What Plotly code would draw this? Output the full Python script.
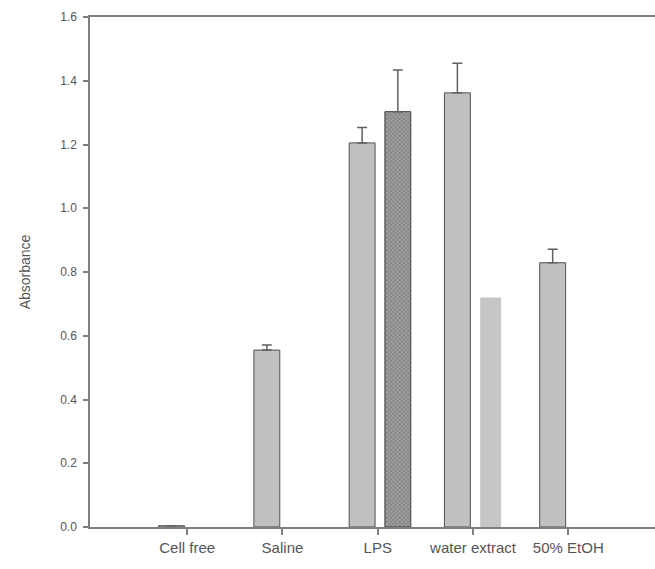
import plotly.graph_objects as go

# Absorbance per treatment group
categories = ["Cell free", "Saline", "LPS", "water extract", "50% EtOH"]
series_a = [0.004, 0.555, 1.205, 1.362, 0.829]
series_a_err = [0.0, 0.016, 0.048, 0.093, 0.042]
series_b = [None, None, 1.303, None, None]
series_b_err = [0.0, 0.0, 0.131, 0.0, 0.0]
series_c = [None, None, None, 0.72, None]

AXIS = "#7f7f7f"
TEXT = "#555555"
FONT = "Liberation Sans"


def error_up(errs):
    return dict(type="data", array=errs, symmetric=False,
                arrayminus=[0] * len(errs),
                color="#606060", thickness=1.5, width=5)


fig = go.Figure()

# first bar of each group
fig.add_trace(go.Bar(
    x=categories, y=series_a,
    offset=-0.30, width=0.272,
    marker=dict(color="#c0c0c0", line=dict(color="#505050", width=1)),
    error_y=error_up(series_a_err),
    showlegend=False,
))

# hatched second bar
fig.add_trace(go.Bar(
    x=categories, y=series_b,
    offset=0.075, width=0.272,
    marker=dict(
        color="#a0a0a0",
        line=dict(color="#404040", width=1),
        pattern=dict(shape="x", fgcolor="#3c3c3c", size=3, solidity=0.35),
    ),
    error_y=error_up(series_b_err),
    showlegend=False,
))

# plain light second bar
fig.add_trace(go.Bar(
    x=categories, y=series_c,
    offset=0.075, width=0.22,
    marker=dict(color="#c6c6c6", line=dict(width=0)),
    showlegend=False,
))

fig.update_layout(
    width=655, height=569,
    margin=dict(l=90, r=0, t=17, b=42),
    paper_bgcolor="white", plot_bgcolor="white",
    barmode="overlay",
    font=dict(family=FONT, color=TEXT, size=12),
)

fig.update_xaxes(
    type="category", range=[-1.02, 4.91],
    showline=True, linecolor=AXIS, linewidth=1.5, mirror=True,
    ticks="outside", ticklen=6, tickcolor=AXIS, tickwidth=1.5,
    showgrid=False, zeroline=False,
    tickfont=dict(size=15, family=FONT, color=TEXT),
)

fig.update_yaxes(
    range=[0, 1.6],
    tickvals=[0, 0.2, 0.4, 0.6, 0.8, 1.0, 1.2, 1.4, 1.6],
    tickformat=".1f",
    showline=True, linecolor=AXIS, linewidth=1.5,
    ticks="outside", ticklen=5, tickcolor=AXIS, tickwidth=1.5,
    ticklabelstandoff=4,
    showgrid=False, zeroline=False,
    tickfont=dict(size=12, family=FONT, color=TEXT),
    title=dict(text="Absorbance", font=dict(size=14, family=FONT, color=TEXT),
               standoff=26),
    automargin=False,
)

fig.write_html("out.html")
